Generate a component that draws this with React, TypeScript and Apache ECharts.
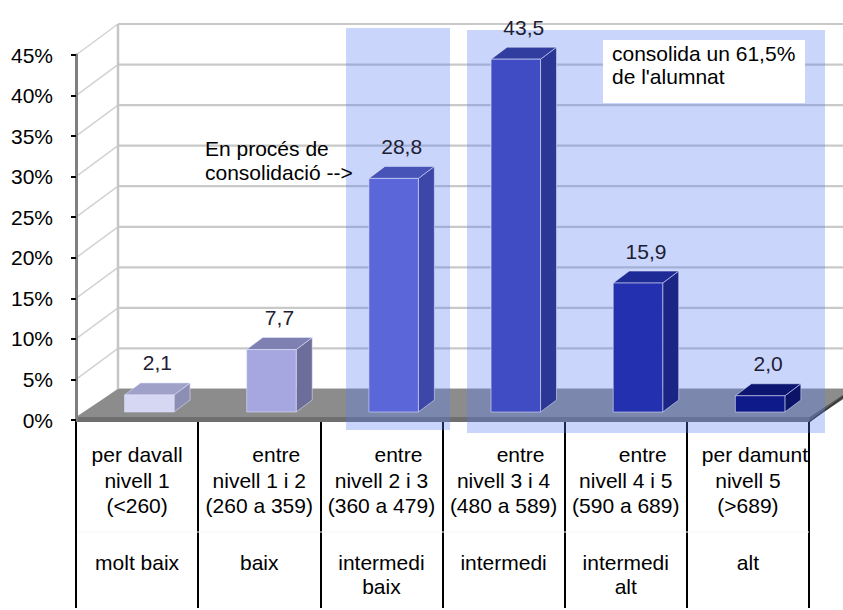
import React, { useEffect, useRef } from 'react';
import * as echarts from 'echarts';

// Distribució de l'alumnat per nivells de rendiment (percentatges)
const rangeWords = ['per davall', 'entre', 'entre', 'entre', 'entre', 'per damunt'];
const levelNames = ['nivell 1', 'nivell 1 i 2', 'nivell 2 i 3', 'nivell 3 i 4', 'nivell 4 i 5', 'nivell 5'];
const scoreRanges = ['(<260)', '(260 a 359)', '(360 a 479)', '(480 a 589)', '(590 a 689)', '(>689)'];
const performanceBands = ['molt baix', 'baix', 'intermedi\nbaix', 'intermedi', 'intermedi\nalt', 'alt'];
const percentages = [2.1, 7.7, 28.8, 43.5, 15.9, 2.0];
const yTicks = [0, 5, 10, 15, 20, 25, 30, 35, 40, 45];

const chartTitle = "Comprensió lectora. Percentatge d'alumnes segons el nivell";
const noteProcess = 'En procés de\nconsolidació -->';
const noteConsolidated = "consolida un 61,5%\nde l'alumnat";

// shades for the front, top and side faces of each column
const frontColors = ['#d5d7f3', '#a6a7e0', '#5b67d9', '#3f4cc3', '#2331b0', '#0f1a8a'];
const topColors = ['#9fa1c8', '#7e80b2', '#4753b6', '#323e9f', '#1e2a96', '#0c1670'];
const sideColors = ['#8c8eb3', '#6c6e99', '#3c47a7', '#2c3795', '#1b2586', '#0b1466'];

const FONT = '"Liberation Sans", Arial, sans-serif';

const fmtValue = (v: number) => v.toFixed(1).replace('.', ',');

export default function App() {
  const ref = useRef<HTMLDivElement>(null);

  useEffect(() => {
    if (!ref.current) return;
    const chart = echarts.init(ref.current, null, { renderer: 'svg' });

    const WALL_DX = 42;
    const WALL_DY = -31;

    const option: any = {
      animation: false,
      backgroundColor: '#ffffff',
      grid: { left: 76, right: 34, top: 55, bottom: 190, containLabel: false },
      xAxis: {
        type: 'category',
        data: levelNames,
        boundaryGap: true,
        axisLine: { show: false },
        axisTick: { show: true, interval: 0, length: 188, lineStyle: { color: '#000', width: 2 } },
        axisLabel: {
          interval: 0,
          margin: 22,
          verticalAlign: 'top',
          fontFamily: FONT,
          fontSize: 21,
          color: '#000',
          lineHeight: 25.5,
          formatter: (_v: string, idx: number) => {
            const w = rangeWords[idx];
            const first = w === 'entre' ? `{e|${w}}` : w === 'per damunt' ? `{d|${w}}` : `{t|${w}}`;
            const band = performanceBands[idx].split('\n').map((s) => `{b|${s}}`).join('\n');
            return `${first}\n{t|${levelNames[idx]}}\n{t|${scoreRanges[idx]}}\n{g| }\n${band}`;
          },
          rich: {
            e: { fontFamily: FONT, fontSize: 21, color: '#000', lineHeight: 25.5, padding: [0, 0, 0, 34] },
            d: { fontFamily: FONT, fontSize: 21, color: '#000', lineHeight: 25.5, padding: [0, 0, 0, 14] },
            t: { fontFamily: FONT, fontSize: 21, color: '#000', lineHeight: 25.5 },
            g: { fontFamily: FONT, fontSize: 21, color: '#000', lineHeight: 32 },
            b: { fontFamily: FONT, fontSize: 21, color: '#000', lineHeight: 24 },
          },
        },
        splitLine: { show: false },
      },
      yAxis: {
        type: 'value',
        min: 0,
        max: 45,
        interval: 5,
        z: 10,
        axisLine: { show: true, lineStyle: { color: '#7f7f7f', width: 3 } },
        axisTick: { show: true, length: 5, lineStyle: { color: '#000', width: 2 } },
        axisLabel: {
          formatter: '{value}%',
          fontFamily: FONT,
          fontSize: 21,
          color: '#000',
          margin: 23,
          padding: [8, 0, 0, 0],
        },
        splitLine: { show: false },
      },
      graphic: [
        {
          type: 'text',
          x: 110,
          y: -16,
          z: 20,
          style: { text: chartTitle, font: `bold 25px ${FONT}`, fill: '#000', align: 'left', verticalAlign: 'middle' },
        },
        {
          type: 'rect',
          z: 3,
          shape: { x: 346, y: 28, width: 104, height: 402 },
          style: { fill: 'rgba(88,125,244,0.32)' },
        },
        {
          type: 'rect',
          z: 3,
          shape: { x: 467, y: 30, width: 358, height: 403 },
          style: { fill: 'rgba(88,125,244,0.32)' },
        },
        {
          type: 'rect',
          z: 20,
          shape: { x: 603, y: 40, width: 202, height: 63 },
          style: { fill: '#ffffff' },
        },
        {
          type: 'text',
          x: 612,
          y: 42,
          z: 21,
          style: { text: noteConsolidated, font: `21px ${FONT}`, fill: '#000', lineHeight: 23, align: 'left', verticalAlign: 'top' },
        },
        {
          type: 'text',
          x: 205,
          y: 136,
          z: 21,
          style: { text: noteProcess, font: `21px ${FONT}`, fill: '#000', lineHeight: 24, align: 'left', verticalAlign: 'top' },
        },
        {
          type: 'line',
          z: 1,
          shape: { x1: 78, y1: 532, x2: 809, y2: 532 },
          style: { stroke: '#f5f5f5', lineWidth: 1 },
        },
      ],
      series: [
        {
          // back wall gridlines and left wall diagonals
          type: 'custom',
          z: 1,
          silent: true,
          data: yTicks.map((v) => [0, v]),
          renderItem: (params: any, api: any) => {
            const cs = params.coordSys;
            const v = api.value(1);
            const y = api.coord([0, v])[1];
            const bx = cs.x + WALL_DX;
            const by = y + WALL_DY;
            const children: any[] = [
              {
                type: 'line',
                shape: { x1: cs.x, y1: y, x2: bx, y2: by },
                style: { stroke: '#d2d2d2', lineWidth: 1.5 },
              },
              {
                type: 'line',
                shape: { x1: bx, y1: by, x2: cs.x + cs.width + 120, y2: by },
                style: { stroke: '#c9c9c9', lineWidth: 2.2 },
              },
            ];
            if (v === yTicks[yTicks.length - 1]) {
              const y0 = api.coord([0, 0])[1] + WALL_DY;
              children.push({
                type: 'line',
                shape: { x1: bx, y1: by, x2: bx, y2: y0 },
                style: { stroke: '#c6c6c6', lineWidth: 2.5 },
              });
            }
            return { type: 'group', children };
          },
        },
        {
          // floor slab
          type: 'custom',
          z: 2,
          silent: true,
          data: [[0, 0]],
          renderItem: (params: any, api: any) => {
            const cs = params.coordSys;
            const yf = api.coord([0, 0])[1];
            const l = cs.x;
            const r = cs.x + cs.width;
            const top = yf - 3;
            return {
              type: 'group',
              children: [
                {
                  type: 'polygon',
                  shape: { points: [[l, top], [r, top], [r + WALL_DX, top + WALL_DY + 3], [l + WALL_DX, top + WALL_DY + 3]] },
                  style: { fill: '#8c8c8c' },
                },
                {
                  type: 'polygon',
                  shape: { points: [[l, top], [r, top], [r, yf + 2], [l, yf + 2]] },
                  style: { fill: '#6f6f6f' },
                },
                {
                  type: 'polygon',
                  shape: { points: [[r, top], [r + WALL_DX, top + WALL_DY + 3], [r + WALL_DX, top + WALL_DY + 8], [r, yf + 2]] },
                  style: { fill: '#5f5f5f' },
                },
                {
                  type: 'line',
                  shape: { x1: r, y1: yf + 2, x2: r + WALL_DX, y2: yf + 2 + WALL_DY },
                  style: { stroke: '#333', lineWidth: 1.5 },
                },
              ],
            };
          },
        },
        {
          // 3D columns with their value labels
          type: 'custom',
          z: 4,
          data: percentages.map((v, i) => [i, v]),
          encode: { x: 0, y: 1 },
          renderItem: (params: any, api: any) => {
            const idx = params.dataIndex;
            const cat = api.value(0);
            const v = api.value(1);
            const base = api.coord([cat, 0]);
            const topPt = api.coord([cat, v]);
            const band = api.size([1, 0])[0];
            const w = band * 0.405;
            const cx = base[0] + band * 0.1;
            const y0 = base[1] - 8;
            const y1 = topPt[1] - 8;
            const x0 = cx - w / 2;
            const x1 = cx + w / 2;
            const dx = 16;
            const dy = -12;
            const edge = 'rgba(225,230,255,0.55)';
            return {
              type: 'group',
              children: [
                {
                  type: 'polygon',
                  shape: { points: [[x1, y1], [x1 + dx, y1 + dy], [x1 + dx, y0 + dy], [x1, y0]] },
                  style: { fill: sideColors[idx], stroke: edge, lineWidth: 1 },
                },
                {
                  type: 'polygon',
                  shape: { points: [[x0, y1], [x1, y1], [x1 + dx, y1 + dy], [x0 + dx, y1 + dy]] },
                  style: { fill: topColors[idx], stroke: edge, lineWidth: 1 },
                },
                {
                  type: 'rect',
                  shape: { x: x0, y: y1, width: w, height: y0 - y1 },
                  style: { fill: frontColors[idx], stroke: edge, lineWidth: 1 },
                },
                {
                  type: 'text',
                  x: cx + dx / 2,
                  y: y1 + dy - 20,
                  style: {
                    text: fmtValue(v),
                    font: `21px ${FONT}`,
                    fill: '#1c2033',
                    align: 'center',
                    verticalAlign: 'middle',
                  },
                },
              ],
            };
          },
        },
      ],
    };

    chart.setOption(option);
    return () => chart.dispose();
  }, []);

  return (
    <div
      ref={ref}
      style={{ position: 'fixed', left: 0, top: 0, width: 843, height: 610, background: '#fff' }}
    />
  );
}
